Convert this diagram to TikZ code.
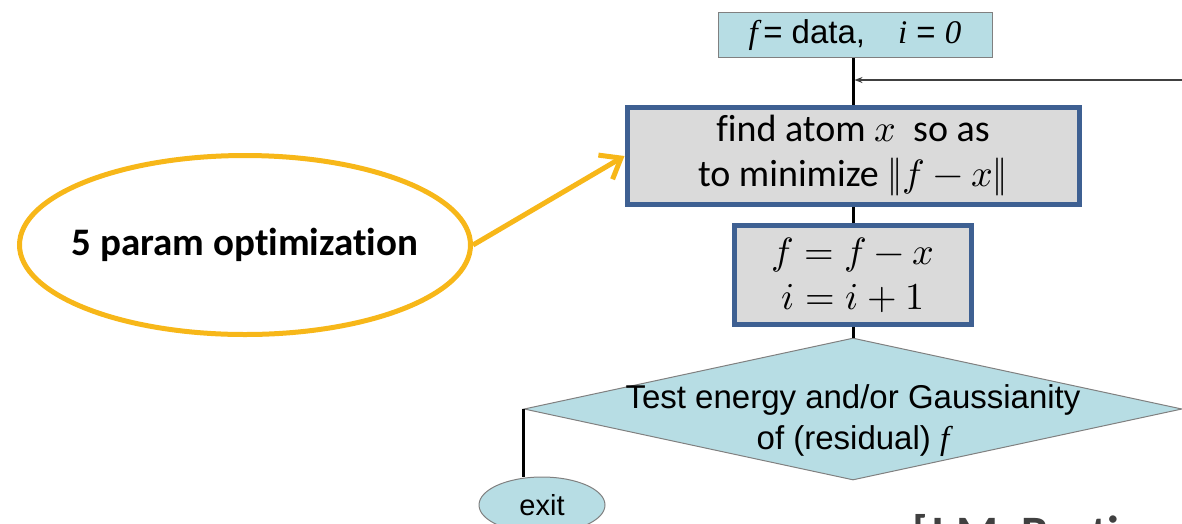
\documentclass[tikz,border=0pt]{standalone}
\usepackage{fontspec}
\usepackage{unicode-math}
\setmainfont{Liberation Sans}
\setmathfont{Latin Modern Math}
\newfontfamily\calibrifont{Carlito}[Ligatures=NoCommon]
\newfontfamily\timesfont{Liberation Serif}
\usetikzlibrary{shapes.geometric,arrows.meta}
\definecolor{boxblue}{RGB}{62,96,146}
\definecolor{boxgray}{RGB}{218,218,218}
\definecolor{flowcyan}{RGB}{183,221,228}
\definecolor{optyellow}{RGB}{247,183,25}
\begin{document}
\begin{tikzpicture}[
        x=1pt, y=-1pt,
        every node/.style={align=center, inner sep=0pt},
        flow_init/.style={rectangle, draw=gray, fill=flowcyan, line width=1pt, minimum width=274pt, minimum height=45pt, font=\fontsize{33}{38}\selectfont},
        flow_step/.style={rectangle, draw=boxblue, fill=boxgray, line width=5pt, font=\calibrifont\fontsize{38}{45}\selectfont},
        flow_test/.style={diamond, draw=gray, fill=flowcyan, line width=1pt, minimum width=658pt, minimum height=142pt},
        flow_exit/.style={ellipse, draw=gray, fill=flowcyan, line width=1pt, minimum width=126pt, minimum height=56pt, font=\fontsize{29}{34}\selectfont},
        flow_text/.style={font=\fontsize{33}{41}\selectfont},
        flow_link/.style={draw, line width=3pt},
        flow_back/.style={draw=darkgray, line width=1.5pt, shorten >=1.5pt, -{Stealth[length=8pt,width=6pt]}},
        opt_ellipse/.style={ellipse, draw=optyellow, line width=5pt, minimum width=451pt, minimum height=179pt},
        opt_text/.style={font=\calibrifont\bfseries\fontsize{39}{46}\selectfont},
        opt_arrow/.style={draw=optyellow, line width=5pt, -{Straight Barb[length=18pt,width=28pt]}},
        ]
    \useasboundingbox (0,0) rectangle (1182,523);
    \node[flow_init] (init) at (855,35) {{\timesfont\itshape f}\,= data,\quad{\timesfont\itshape i} = {\timesfont\itshape 0}};
    \node[flow_step, minimum width=452pt, minimum height=97pt] (find) at (853,156) {find atom $x$ \ so as\\to minimize $\|f-x\|$};
    \node[flow_step, minimum width=237pt, minimum height=99pt] (update) at (853,275) {$f=f-x$\\$i=i+1$};
    \node[flow_test] (test) at (853,409) {};
    \node[flow_text] (test_label) at (853,421) {Test energy and/or Gaussianity\\of (residual)\ {\timesfont\itshape f}};
    \node[flow_exit] (exit) at (542,505) {exit};
    \node[opt_ellipse] (opt) at (245,245) {};
    \node[opt_text] (opt_label) at (opt.center) {5 param optimization};
    \node[anchor=base west, text=darkgray, font=\calibrifont\bfseries\fontsize{48}{56}\selectfont] (cite) at (912,549) {[J.M. Bastiaans]};
    \coordinate (back_in) at (1182,80);
    \draw[flow_link] (find.north |- init.south) -- (find.north);
    \draw[flow_link] (find.south) -- (find.south |- update.north);
    \draw[flow_link] (update.south) -- (update.south |- test.north);
    \draw[flow_link] (test.west) -- (test.west |- exit.north);
    \draw[flow_back] (back_in) -- (back_in -| find.north);
    \draw[opt_arrow] (opt.east) -- (find.west);
\end{tikzpicture}
\end{document}
